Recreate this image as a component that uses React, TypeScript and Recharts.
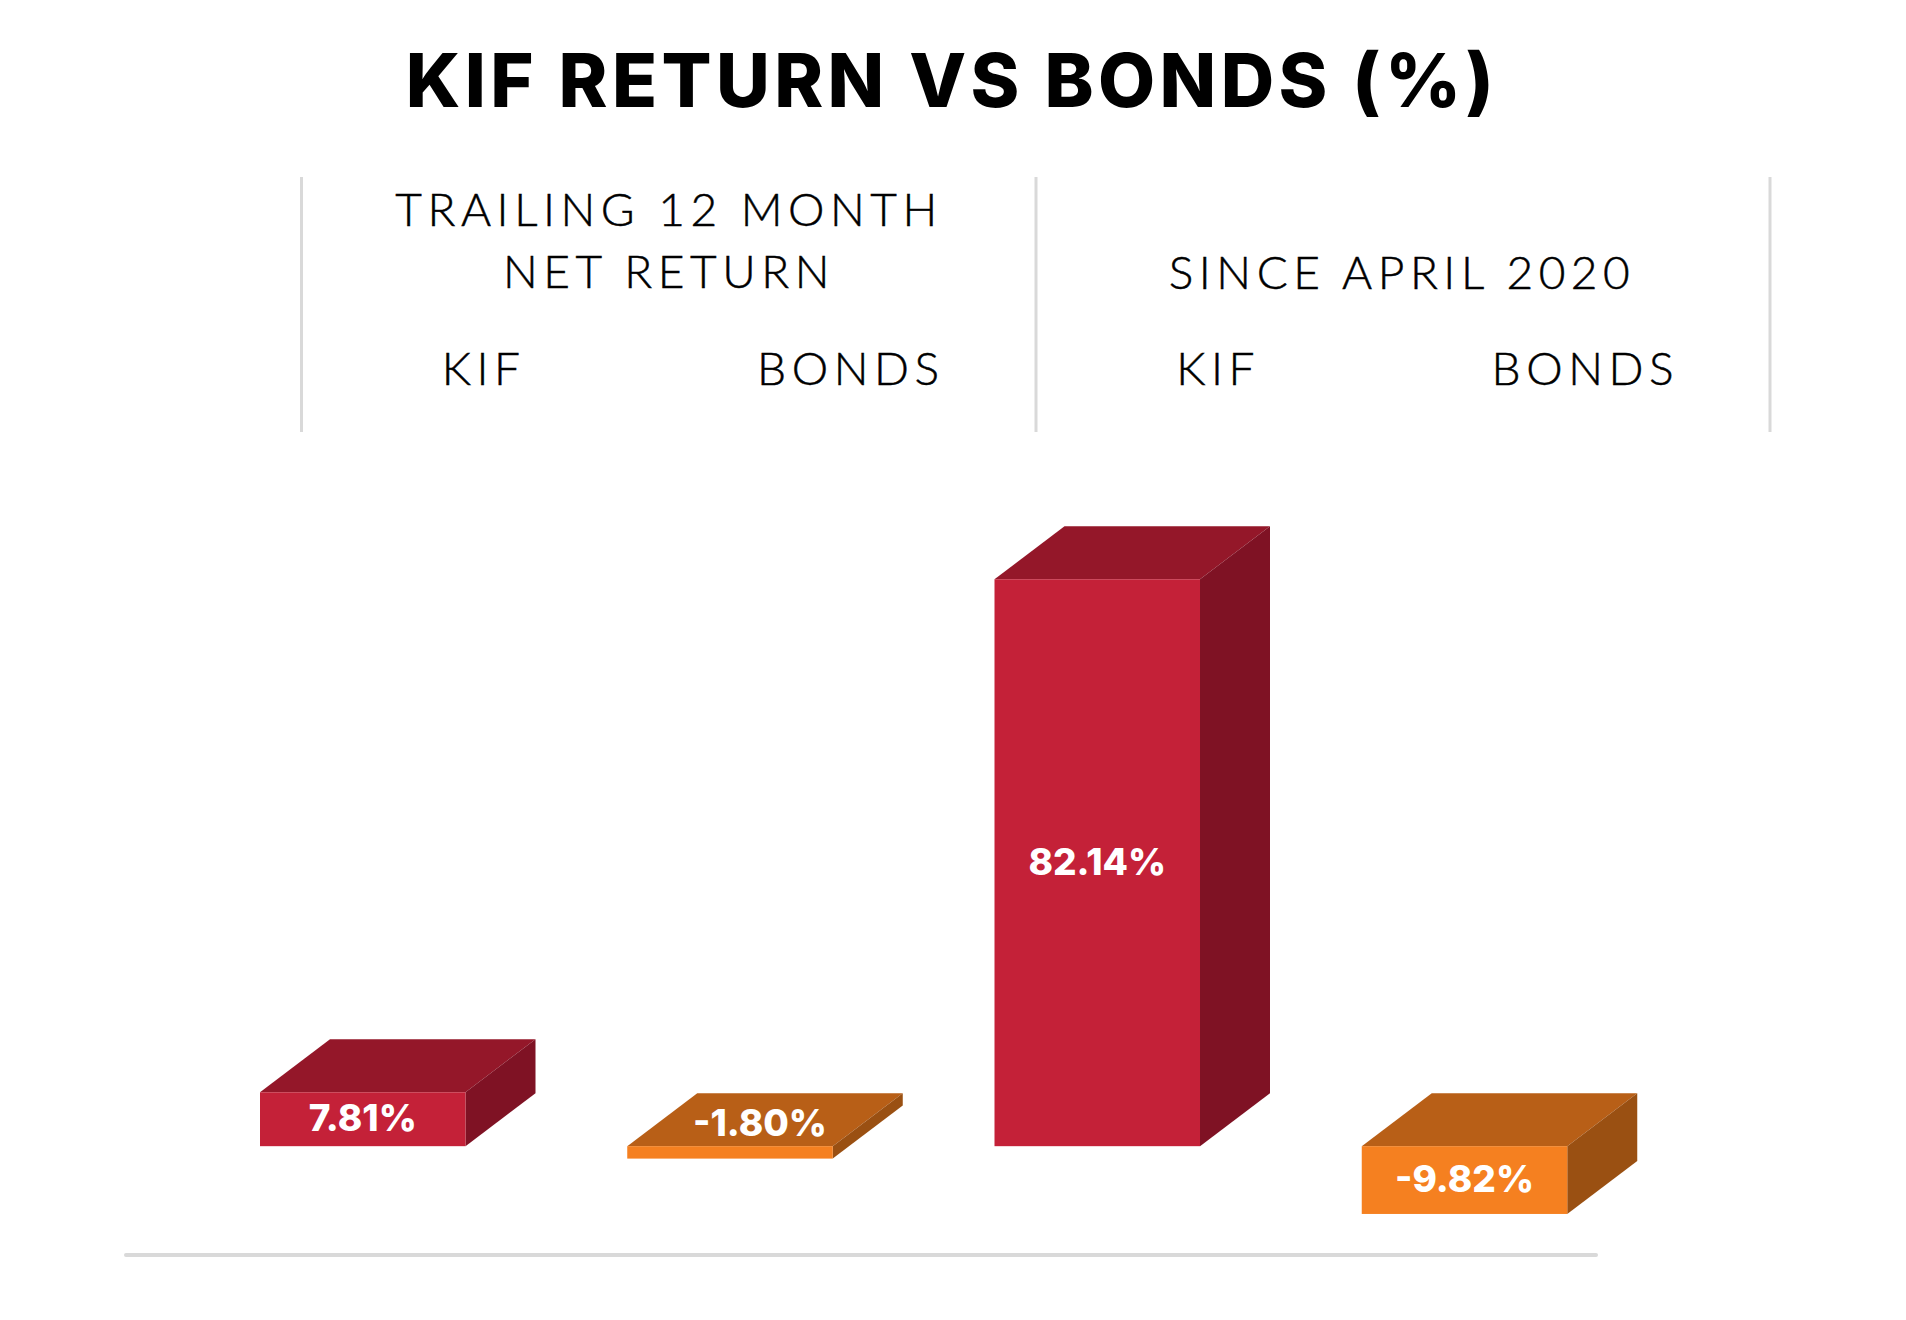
import React from 'react';
import { BarChart, Bar, XAxis, YAxis, LabelList } from 'recharts';

const categories = ['KIF', 'BONDS', 'KIF', 'BONDS'];
const returns = [7.81, -1.8, 82.14, -9.82];
const periodLines = [['TRAILING 12 MONTH', 'NET RETURN'], ['SINCE APRIL 2020']];

const chartData = categories.map((name, i) => ({ name, value: returns[i] }));

const FONT = 'Lato, sans-serif';
const HEAVY_FONT = 'Inter, sans-serif';
const DEPTH_X = 70;
const DEPTH_Y = 53;

const SHADES: Record<string, { front: string; top: string; side: string }> = {
  KIF: { front: '#C42138', top: '#941729', side: '#7F1224' },
  BONDS: { front: '#F58020', top: '#B85F17', side: '#9A5012' },
};

// Lato light is a touch too thin for the header text, so it gets a hairline stroke
const headerText = {
  fill: '#000',
  stroke: '#000',
  strokeWidth: 0.5,
  fontFamily: FONT,
  fontWeight: 300,
  fontSize: 46,
  letterSpacing: 5.55,
  textAnchor: 'middle',
} as const;

const Box3D = (props: any) => {
  const { x, y, width, height, index } = props;
  const top = Math.min(y, y + height);
  const h = Math.abs(height);
  const c = SHADES[categories[index]];
  const right = x + width;
  return (
    <g>
      <polygon
        points={`${x},${top} ${x + DEPTH_X},${top - DEPTH_Y} ${right + DEPTH_X},${top - DEPTH_Y} ${right},${top}`}
        fill={c.top}
      />
      <polygon
        points={`${right},${top} ${right + DEPTH_X},${top - DEPTH_Y} ${right + DEPTH_X},${top + h - DEPTH_Y} ${right},${top + h}`}
        fill={c.side}
      />
      <rect x={x} y={top} width={width} height={h} fill={c.front} />
    </g>
  );
};

const BoxLabel = (props: any) => {
  const { x, y, width, height, value } = props;
  const top = Math.min(y, y + height);
  const h = Math.abs(height);
  // the thin bar has no room on its front, so its label sits on the top face
  const thin = h < 30;
  return (
    <text
      x={x + width / 2 + (thin ? 30 : 0)}
      y={thin ? top - 22 : top + h / 2}
      dy="0.32em"
      textAnchor="middle"
      fill="#fff"
      fontFamily={HEAVY_FONT}
      fontWeight={800}
      fontSize={37}
    >
      {`${Number(value).toFixed(2)}%`}
    </text>
  );
};

const HeaderTick = (props: any) => {
  const { x, y, payload } = props;
  return (
    <text x={x + 121} y={y} {...headerText}>
      {payload.value}
    </text>
  );
};

const dividerX = [301.5, 1036, 1770];

export default function App() {
  return (
    <div style={{ position: 'absolute', left: 0, top: 0, width: 1906, height: 1320, background: '#fff' }}>
      <BarChart
        width={1906}
        height={1320}
        data={chartData}
        margin={{ top: 0, right: 258, bottom: 91, left: 179 }}
        barSize={205.5}
      >
        <XAxis
          dataKey="name"
          orientation="top"
          height={525}
          axisLine={false}
          tickLine={false}
          tickMargin={134}
          interval={0}
          tick={HeaderTick}
        />
        <YAxis hide width={0} domain={[-12, 90]} />
        <Bar dataKey="value" shape={Box3D} isAnimationActive={false}>
          <LabelList dataKey="value" content={BoxLabel} />
        </Bar>
        <text
          x={952}
          y={107}
          textAnchor="middle"
          fill="#000"
          fontFamily={HEAVY_FONT}
          fontWeight={800}
          fontSize={74}
          letterSpacing={4.4}
        >
          KIF RETURN VS BONDS (%)
        </text>
        {periodLines[0].map((line, i) => (
          <text key={line} x={669} y={226 + i * 62} {...headerText}>
            {line}
          </text>
        ))}
        <text x={1402} y={289} {...headerText}>
          {periodLines[1][0]}
        </text>
        {dividerX.map((dx) => (
          <line key={dx} x1={dx} x2={dx} y1={177} y2={432} stroke="#d9d9d9" strokeWidth={3} />
        ))}
        <line x1={126} x2={1596} y1={1255} y2={1255} stroke="#d9d9d9" strokeWidth={4} strokeLinecap="round" />
      </BarChart>
    </div>
  );
}
